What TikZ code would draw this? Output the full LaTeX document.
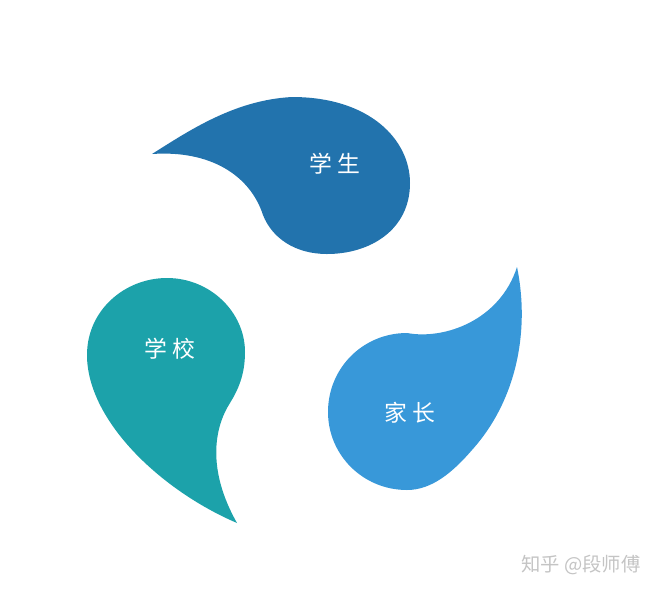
\documentclass[tikz,border=0pt]{standalone}
\usepackage{fontspec}
\setmainfont{Noto Sans CJK SC}
\usepackage{tikz}

\definecolor{studentblue}{HTML}{2273AD}
\definecolor{schoolteal}{HTML}{1CA2AA}
\definecolor{parentblue}{HTML}{3898D9}
\definecolor{markgray}{HTML}{C4C4C4}

\begin{document}
\begin{tikzpicture}[x=0.02cm, y=-0.02cm,
  droptext/.style={text=white, font=\fontsize{13}{15}\selectfont},
  marktext/.style={text=markgray, font=\fontsize{11}{13}\selectfont}]
\useasboundingbox (0,0) rectangle (660,593);

% Define the three drops
\fill[studentblue] (152,154) .. controls (190,130) and (235,100) .. (292,97)
  .. controls (370,97) and (410,140) .. (410,183)
  .. controls (410,230) and (370,254) .. (327,254)
  .. controls (295,254) and (272,238) .. (263,215)
  .. controls (250,175) and (210,150) .. (152,154) -- cycle;

\fill[schoolteal] (237,523) .. controls (160,490) and (87,420) .. (87,355)
  .. controls (87,310) and (125,278) .. (167,278)
  .. controls (210,278) and (245,312) .. (245,352)
  .. controls (245,375) and (238,390) .. (230,403)
  .. controls (214,428) and (207,470) .. (237,523) -- cycle;

\fill[parentblue] (517,267) .. controls (530,330) and (517,400) .. (472,450)
  .. controls (453,472) and (432,490) .. (407,490)
  .. controls (363,490) and (328,455) .. (328,412)
  .. controls (328,368) and (363,333) .. (407,333)
  .. controls (445,340) and (500,320) .. (517,267) -- cycle;

% Labels on the drops
\node[droptext] (student) at (335,164) {学\hspace{0.22em}生};
\node[droptext] (school) at (170,349) {学\hspace{0.22em}校};
\node[droptext] (parent) at (410,413) {家\hspace{0.22em}长};

\node[marktext] (mark) at (581,565) {知乎 @段师傅};
\end{tikzpicture}
\end{document}
